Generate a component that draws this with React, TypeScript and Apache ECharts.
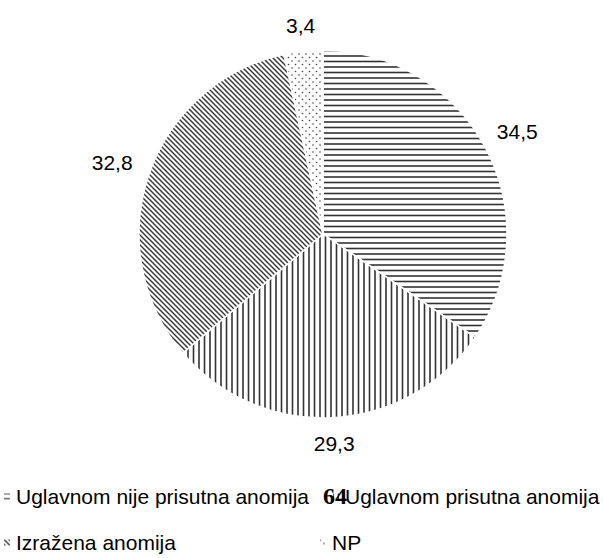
import React, { useEffect, useRef } from 'react';
import * as echarts from 'echarts';

// ---- data ----
const categories = ['Uglavnom nije prisutna anomija', 'Uglavnom prisutna anomija', 'Izražena anomija', 'NP'];
const values = [34.5, 29.3, 32.8, 3.4];
const patterns = ['horizontal', 'vertical', 'diagonal', 'dots'];
const pageNumber = '64';

const FONT = "'Liberation Sans', Arial, sans-serif";

function makePattern(kind: string) {
  const c = document.createElement('canvas');
  let w = 10, h = 10;
  if (kind === 'horizontal') { w = 4; h = 11; }
  if (kind === 'vertical') { w = 11; h = 4; }
  if (kind === 'diagonal') { w = 10; h = 10; }
  if (kind === 'dots') { w = 7; h = 7; }
  c.width = w; c.height = h;
  const ctx = c.getContext('2d')!;
  ctx.fillStyle = '#ffffff';
  ctx.fillRect(0, 0, w, h);
  ctx.fillStyle = '#333333';
  ctx.strokeStyle = '#3a3a3a';
  if (kind === 'horizontal') {
    ctx.fillRect(0, 0.2, w, 1.6);
    ctx.fillRect(0, 5.7, w, 1.6);
  } else if (kind === 'vertical') {
    ctx.fillRect(0.2, 0, 1.6, h);
    ctx.fillRect(5.7, 0, 1.6, h);
  } else if (kind === 'diagonal') {
    ctx.lineWidth = 1.5;
    for (let k = -20; k <= 20; k += 5) {
      ctx.beginPath();
      ctx.moveTo(-2, k - 2);
      ctx.lineTo(w + 2, w + k + 2);
      ctx.stroke();
    }
  } else {
    ctx.fillStyle = '#444444';
    ctx.beginPath(); ctx.arc(1.5, 1.5, 0.8, 0, Math.PI * 2); ctx.fill();
    ctx.beginPath(); ctx.arc(5, 5, 0.8, 0, Math.PI * 2); ctx.fill();
  }
  return { image: c.toDataURL(), imageWidth: w, imageHeight: h, repeat: 'repeat' } as any;
}

export default function App() {
  const ref = useRef<HTMLDivElement>(null);
  useEffect(() => {
    if (!ref.current) return;
    const chart = echarts.init(ref.current, null, { renderer: 'svg' });
    const cx = 323, cy = 234, R = 184, GAP = 17, FS = 21;
    const total = values.reduce((a, b) => a + b, 0);
    const mids: number[] = [];
    let acc = 0;
    values.forEach((v) => {
      const a0 = (acc / total) * Math.PI * 2;
      acc += v;
      const a1 = (acc / total) * Math.PI * 2;
      mids.push((a0 + a1) / 2);
    });
    const legendPos = [[2, 486], [331, 486], [2, 532], [318, 532]];
    const option: any = {
      animation: false,
      backgroundColor: '#ffffff',
      legend: categories.map((name, i) => ({
        data: [name],
        left: legendPos[i][0],
        top: legendPos[i][1],
        icon: 'rect',
        itemWidth: 8,
        itemHeight: 8,
        selectedMode: false,
        padding: 0,
        textStyle: { fontFamily: FONT, fontSize: FS, color: '#000' },
      })),
      graphic: [
        {
          type: 'text',
          left: 323,
          top: 484,
          z: 100,
          style: { text: pageNumber, font: 'bold 24px "Liberation Serif", "DejaVu Serif", serif', fill: '#000' },
        },
      ],
      series: [
        {
          type: 'pie',
          center: [cx, cy],
          radius: R,
          startAngle: 90,
          clockwise: true,
          avoidLabelOverlap: false,
          emphasis: { disabled: true },
          itemStyle: { borderColor: '#ffffff', borderWidth: 1.5 },
          label: {
            show: true,
            position: 'outside',
            fontFamily: FONT,
            fontSize: FS,
            color: '#000',
            formatter: (p: any) => String(p.value).replace('.', ','),
          },
          labelLine: { show: false },
          labelLayout: (p: any) => {
            const a = mids[p.dataIndex];
            const dx = Math.sin(a), dy = -Math.cos(a);
            const hw = p.labelRect.width / 2, hh = FS * 0.42;
            const t = Math.min(
              Math.abs(dx) > 1e-6 ? hw / Math.abs(dx) : Infinity,
              Math.abs(dy) > 1e-6 ? hh / Math.abs(dy) : Infinity
            );
            const d = R + GAP + t;
            return { x: cx + dx * d, y: cy + dy * d, align: 'center', verticalAlign: 'middle' };
          },
          data: categories.map((name, i) => ({
            name,
            value: values[i],
            itemStyle: { color: makePattern(patterns[i]) },
          })),
        },
      ],
    };
    chart.setOption(option);
    return () => chart.dispose();
  }, []);
  return <div ref={ref} style={{ position: 'absolute', left: 0, top: 0, width: 603, height: 558 }} />;
}
